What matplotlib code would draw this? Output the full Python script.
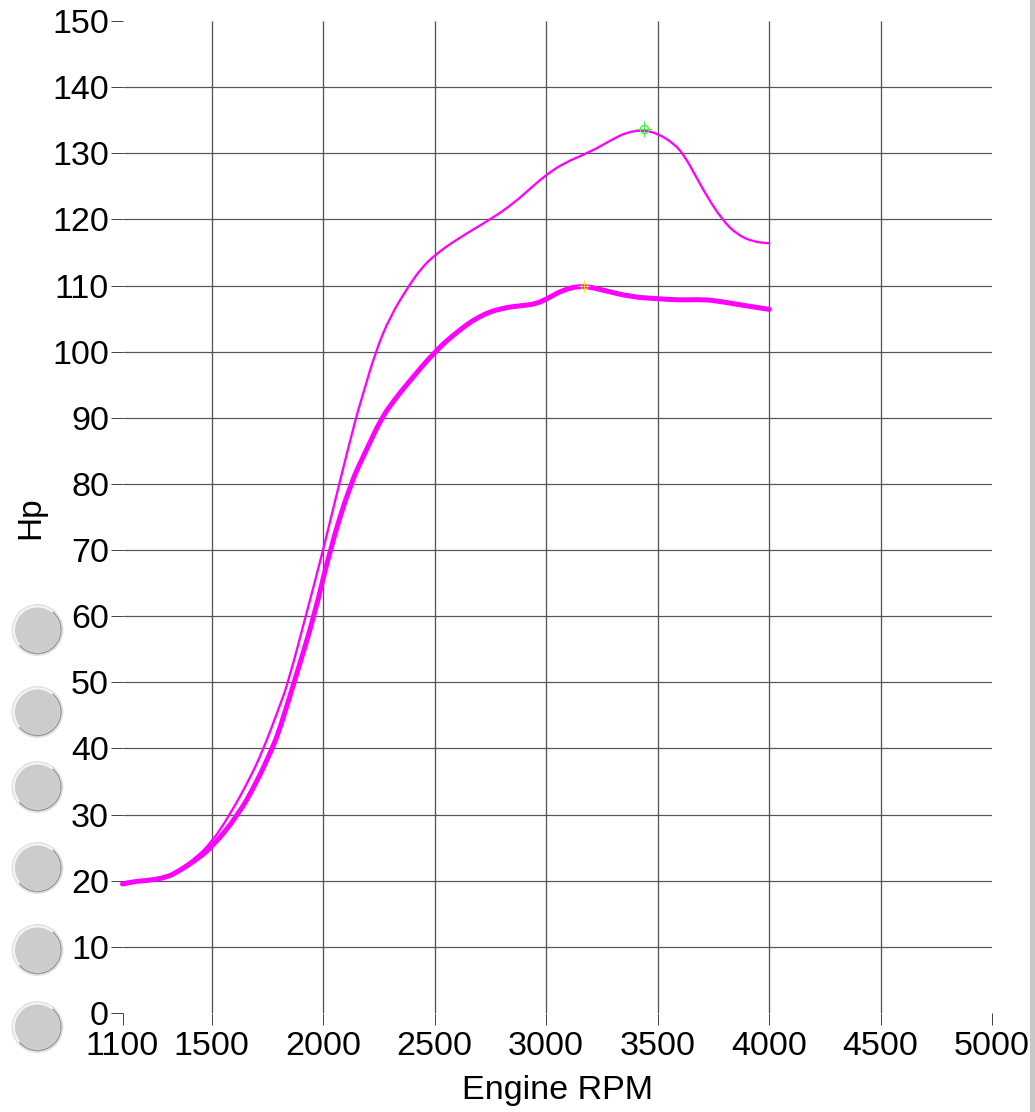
import matplotlib
matplotlib.use('Agg')
import matplotlib.pyplot as plt
from matplotlib.path import Path
from matplotlib.patches import Arc, Circle, PathPatch, Rectangle

plt.rcParams['font.family'] = ['Liberation Sans', 'DejaVu Sans']

W, H = 1035, 1112
PX = 72 / 100  # points per pixel at dpi 100

# thin curve
rpm_thin = [1100, 1150, 1208, 1298, 1350, 1420, 1500, 1582, 1680, 1740, 1805, 1843, 1922, 2000,
            2072, 2147, 2172, 2235, 2300, 2385, 2440, 2500, 2600, 2750, 2850, 2950, 3000, 3078,
            3198, 3287, 3362, 3437, 3500, 3572, 3617, 3669, 3721, 3789, 3856, 3931, 4000, 4001]
hp_thin = [19.5, 19.9, 20.0, 20.6, 21.6, 23.2, 25.8, 30.0, 36.0, 40.6, 46.4, 50.0, 60.0, 70.0,
           80.0, 90.0, 92.8, 100.0, 105.3, 110.0, 112.6, 114.6, 117.0, 120.0, 122.3, 125.3, 126.7, 128.5,
           130.2, 131.9, 133.2, 133.5, 133.0, 131.5, 129.8, 126.7, 123.5, 120.0, 117.7, 116.6, 116.4, 116.4]

# thick curve
rpm_thick = [1100, 1150, 1208, 1298, 1350, 1420, 1500, 1620, 1700, 1772, 1805, 1870, 1960, 2030,
             2122, 2192, 2262, 2322, 2374, 2500, 2600, 2700, 2800, 2900, 2950, 3000, 3078,
             3165, 3257, 3377, 3500, 3601, 3706, 3780, 3885, 4000, 4001]
hp_thick = [19.5, 19.9, 20.0, 20.5, 21.4, 22.9, 25.0, 30.0, 34.8, 40.0, 42.9, 50.0, 60.0, 70.0,
            80.0, 85.0, 90.0, 92.8, 95.0, 100.0, 103.0, 105.4, 106.6, 107.0, 107.2, 107.9, 109.4,
            110.0, 109.3, 108.3, 108.0, 107.8, 107.9, 107.6, 107.0, 106.4, 106.4]

peak_thin = (3437, 133.6)
peak_thick = (3168, 110.0)

x_ticks = [1100, 1500, 2000, 2500, 3000, 3500, 4000, 4500, 5000]
x_grid = [1500, 2000, 2500, 3000, 3500, 4000, 4500]
y_ticks = list(range(0, 151, 10))
y_grid = list(range(10, 141, 10))
button_y = [630, 712, 787, 868, 950, 1027]


def smooth_curve(ax, xs, ys, **kw):
    # quadratic path through the midpoints, the read values are the control points
    pts = list(zip(xs, ys))
    verts = [pts[0]]
    codes = [Path.MOVETO]
    for p, q in zip(pts[1:-1], pts[2:]):
        verts += [p, ((p[0] + q[0]) / 2, (p[1] + q[1]) / 2)]
        codes += [Path.CURVE3, Path.CURVE3]
    verts.append(pts[-1])
    codes.append(Path.LINETO)
    ax.add_patch(PathPatch(Path(verts, codes), fc='none', capstyle='round', joinstyle='round',
                           clip_on=False, zorder=3, **kw))


fig = plt.figure(figsize=(W / 100, H / 100), dpi=100)
left, right, top, bottom = 122.5, 992, 21, 1013
ax = fig.add_axes([left / W, 1 - bottom / H, (right - left) / W, (bottom - top) / H])
ax.set_xlim(1100, 5000)
ax.set_ylim(0, 150)
for s in ax.spines.values():
    s.set_visible(False)

ax.hlines(y_grid, 1100, 5000, color='#555555', lw=1.2 * PX, zorder=1)
ax.vlines(x_grid, 0, 150, color='#555555', lw=1.3 * PX, zorder=1)

ax.set_xticks(x_ticks)
ax.set_yticks(y_ticks)
ax.tick_params(axis='both', length=12 * PX, width=1 * PX, color='#444444', labelsize=24.5, pad=1)
ax.tick_params(axis='x', pad=4)

smooth_curve(ax, rpm_thin, hp_thin, ec='#ff00ff', lw=2.3 * PX)
smooth_curve(ax, rpm_thick, hp_thick, ec='#ff00ff', lw=5 * PX)

ax.plot(*peak_thin, marker='o', ms=6, mfc='none', mec='#44ee44', mew=1, zorder=4)
ax.plot(*peak_thin, marker='+', ms=11, mec='#44ee44', mew=0.7, zorder=4)
ax.plot(*peak_thick, marker='o', ms=4.5, mfc='none', mec='#eeee22', mew=0.8, zorder=4)
ax.plot(*peak_thick, marker='+', ms=9, mec='#eeee22', mew=0.6, zorder=4)

fig.text(557 / W, 1 - 1090 / H, 'Engine RPM', fontsize=24.6, ha='center', va='center')
fig.text(31 / W, 1 - 518 / H, 'Hp', fontsize=24, rotation=90, ha='center', va='center')

# page overlay in pixel coordinates: side buttons and right strip
over = fig.add_axes([0, 0, 1, 1], facecolor='none')
over.set_xlim(0, W)
over.set_ylim(H, 0)
over.axis('off')
for y in button_y:
    over.add_patch(Circle((37.5, y), 26, fc='#e2e2e2', ec='none'))
    over.add_patch(Circle((37.5, y), 24.5, fc='#f4f4f4', ec='none'))
    # y axis is flipped here, so theta runs clockwise on screen
    over.add_patch(Arc((37.5, y), 47, 47, theta1=-50, theta2=140, ec='#9a9a9a', lw=1.1))
    over.add_patch(Circle((37.5, y), 22.5, fc='#cccccc', ec='none'))
over.add_patch(Rectangle((1030, 0), 5, H, fc='#c8c8c8', ec='none'))

fig.savefig('out.png', dpi=100)
